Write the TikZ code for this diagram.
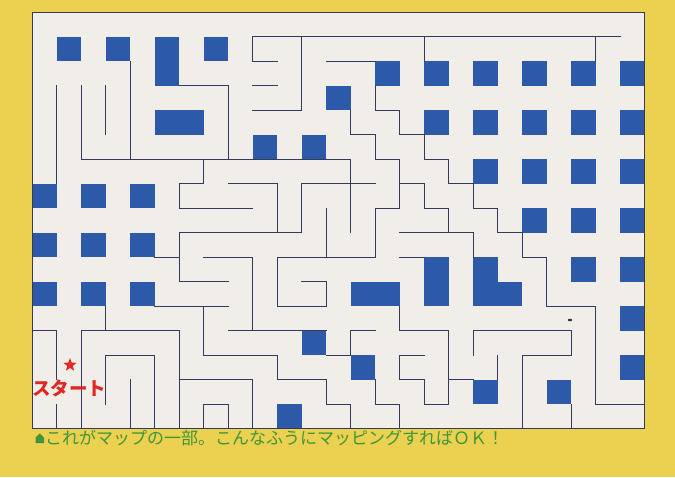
\documentclass[tikz,border=0pt]{standalone}
\usepackage{fontspec}
\newfontfamily\jp{Noto Sans CJK JP}
\usetikzlibrary{shapes.geometric}
\definecolor{bgY}{RGB}{236,208,80}
\definecolor{paper}{RGB}{241,237,232}
\definecolor{blk}{RGB}{45,90,168}
\definecolor{wallc}{RGB}{50,60,90}
\definecolor{capg}{RGB}{62,150,58}
\definecolor{startr}{RGB}{222,40,36}
\tikzset{
  wall/.style={draw=wallc, line width=1pt, line cap=rect},
  block/.style={fill=blk},
}
\begin{document}
\begin{tikzpicture}[x=1pt,y=-1pt]
\fill[bgY] (0,0) rectangle (675,477);
\useasboundingbox (0,0) rectangle (675,477);
\begin{scope}[shift={(32pt,-12pt)},x=24.5pt,y=-24.5pt]
  \fill[paper] (0,0) rectangle (25,17);
  % blocks: col/row/width/height
  \foreach \c/\r/\w/\h in {
    1/1/1/1, 3/1/1/1, 5/1/1/2, 7/1/1/1, 5/4/2/1, 12/3/1/1, 9/5/1/1, 11/5/1/1,
    14/2/1/1, 16/2/1/1, 18/2/1/1, 20/2/1/1, 22/2/1/1, 24/2/1/1,
    16/4/1/1, 18/4/1/1, 20/4/1/1, 22/4/1/1, 24/4/1/1,
    18/6/1/1, 20/6/1/1, 22/6/1/1, 24/6/1/1,
    20/8/1/1, 22/8/1/1, 24/8/1/1,
    22/10/1/1, 24/10/1/1, 16/10/1/2, 18/10/1/2, 19/11/1/1,
    24/12/1/1, 24/14/1/1, 13/11/2/1, 11/13/1/1, 13/14/1/1,
    18/15/1/1, 21/15/1/1, 10/16/1/1,
    0/7/1/1, 2/7/1/1, 4/7/1/1, 0/9/1/1, 2/9/1/1, 4/9/1/1, 0/11/1/1, 2/11/1/1, 4/11/1/1}
    \fill[block] (\c,\r) rectangle ++(\w,\h);
  % vertical walls: x / from / to
  \foreach \x/\a/\b in {
    1/3/7, 2/3/6, 3/3/5, 4/2/6, 7/6/7, 6/7/8, 8/3/6, 9/1/2, 11/1/4,
    10/7/9, 11/7/9, 12/8/10, 13/4/5, 13/6/9, 14/3/4, 14/5/6, 15/4/5, 15/6/8,
    14/8/10, 16/1/2, 16/5/6, 16/7/8, 17/6/7, 17/8/9, 18/7/8, 19/8/9, 23/1/2,
    6/9/11, 9/10/13, 10/10/12, 12/11/12, 3/12/13, 1/13/15, 2/13/17, 6/13/17,
    3/14/16, 5/14/17, 4/15/17, 1/16/17, 7/12/14, 10/14/15, 12/15/16, 13/16/17,
    9/15/17, 7/16/17, 8/16/17, 13/13/14, 15/12/13, 17/13/16, 15/14/15, 16/15/16,
    14/15/16, 15/16/17, 18/9/10, 18/13/14, 19/14/15, 20/9/10, 21/10/12,
    23/12/16, 22/13/14, 20/14/17, 22/16/17}
    \draw[wall] (\x,\a) -- (\x,\b);
  % horizontal walls: y / from / to
  \foreach \y/\a/\b in {
    1/9/24, 2/9/10, 3/9/10, 4/9/11, 2/12/14, 3/6/8, 6/2/13, 7/6/7, 7/8/10,
    7/11/14, 8/6/9, 4/14/15, 5/15/16, 5/13/14, 6/14/15, 7/15/16, 8/16/17,
    6/16/17, 7/17/18, 8/18/19, 8/14/15, 9/15/18, 9/19/20, 10/20/21, 12/21/23,
    16/23/25, 9/6/11, 10/5/6, 10/7/9, 11/6/8, 12/5/8, 10/10/14, 12/10/12,
    11/11/12, 13/0/1, 13/2/6, 14/3/5, 15/6/9, 14/7/10, 15/10/12, 16/12/13,
    16/7/8, 13/8/12, 14/12/13, 13/13/14, 13/15/17, 14/15/16, 15/15/16,
    16/16/17, 16/14/15, 15/17/18, 10/15/16, 13/18/22, 14/20/22}
    \draw[wall] (\a,\y) -- (\b,\y);
  \draw[wall] (0,0) rectangle (25,17);
\end{scope}
% speck
\fill[black!80] (570,320) ellipse (2.2pt and 1.3pt);
% start marker
\node[star, star points=5, star point ratio=2.4, fill=startr, minimum size=14pt, inner sep=0pt] (st) at (70,365) {};
\node[text=startr, font=\jp\bfseries\fontsize{18.5}{20}\selectfont, inner sep=0pt] (stlabel) at (69,388) {スタート};
% caption
\fill[capg] (35.5,443) -- (35.5,437.5) -- (39.75,433.5) -- (44,437.5) -- (44,443) -- cycle;
\node[anchor=west, text=capg, font=\jp\fontsize{17}{19}\selectfont, inner sep=0pt] (cap) at (45,438) {これがマップの一部。こんなふうにマッピングすればＯＫ！};
\end{tikzpicture}
\end{document}
